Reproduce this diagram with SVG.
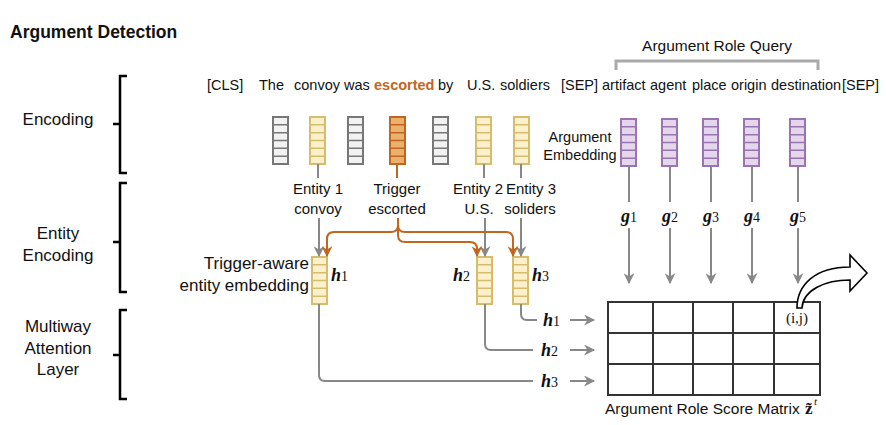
<svg xmlns="http://www.w3.org/2000/svg" width="886" height="425" viewBox="0 0 886 425">
<style>
text{font-family:"Liberation Sans",Arial,sans-serif;fill:#111}
.t{font-size:14.5px}
.lbl{font-size:15px}
.side{font-size:17px;text-anchor:middle}
.mid{text-anchor:middle}
.math{font-family:"Liberation Serif","Times New Roman",serif;font-weight:bold;font-style:italic;font-size:18px}
.num{font-family:"Liberation Serif","Times New Roman",serif;font-weight:normal;font-style:normal;font-size:14px}
.br{fill:none;stroke:#000;stroke-width:2.5}
.gl{fill:none;stroke:#888;stroke-width:2}
.ol{fill:none;stroke:#c0661e;stroke-width:2}
.vy{fill:#fdf0cc;stroke:#d6bd6c;stroke-width:2}
.vg{fill:#f2f2f2;stroke:#777;stroke-width:2}
.vo{fill:#ecb06e;stroke:#c0661e;stroke-width:2}
.vp{fill:#e4d7ec;stroke:#9a74b0;stroke-width:2}
</style>
<defs>
<marker id="ag" viewBox="0 0 10 10" refX="9" refY="5" markerWidth="11" markerHeight="11" markerUnits="userSpaceOnUse" orient="auto"><path d="M0,0 L10,5 L0,10 L3,5 z" fill="#888" stroke="none"/></marker>
<marker id="ao" viewBox="0 0 10 10" refX="9" refY="5" markerWidth="11" markerHeight="11" markerUnits="userSpaceOnUse" orient="auto"><path d="M0,0 L10,5 L0,10 L3,5 z" fill="#c0661e" stroke="none"/></marker>
<g id="vec"><rect x="0" y="0" width="15" height="47"/><path d="M0,7.8 H15 M0,15.7 H15 M0,23.5 H15 M0,31.3 H15 M0,39.2 H15" fill="none" stroke-width="1.6"/></g>
</defs>
<rect width="886" height="425" fill="#fff"/>

<text x="10" y="38" style="font-size:17.5px;font-weight:bold">Argument Detection</text>

<g id="side-labels">
<path class="br" d="M127,76 L120,76 L120,173 L127,173 M113,124 L120,124"/>
<path class="br" d="M127,183 L120,183 L120,292 L127,292 M113,242 L120,242"/>
<path class="br" d="M127,310 L120,310 L120,399 L127,399 M113,355 L120,355"/>
<text class="side" x="58" y="125">Encoding</text>
<text class="side" x="58" y="239">Entity</text>
<text class="side" x="58" y="261">Encoding</text>
<text class="side" x="58" y="332">Multiway</text>
<text class="side" x="58" y="354">Attention</text>
<text class="side" x="58" y="375">Layer</text>
</g>

<g id="tokens">
<text class="t" x="207" y="90">[CLS]</text>
<text class="t" x="259" y="90">The</text>
<text class="t" x="294" y="90">convoy</text>
<text class="t" x="344" y="90">was</text>
<text class="t" x="374" y="90" style="font-weight:bold;fill:#c0661e">escorted</text>
<text class="t" x="438" y="90">by</text>
<text class="t" x="467" y="90">U.S.</text>
<text class="t" x="500" y="90">soldiers</text>
<text class="t" x="561" y="90">[SEP]</text>
<text class="t" x="602" y="90">artifact</text>
<text class="t" x="650" y="90">agent</text>
<text class="t" x="692" y="90">place</text>
<text class="t" x="731" y="90">origin</text>
<text class="t" x="771" y="90">destination</text>
<text class="t" x="842" y="90">[SEP]</text>
</g>

<g id="role-query">
<path d="M616,70 L616,61 L818,61 L818,70" fill="none" stroke="#aaa" stroke-width="3"/>
<text class="mid" x="717" y="51" style="font-size:15.5px">Argument Role Query</text>
</g>

<g id="encoding-vectors">
<use href="#vec" class="vg" x="273" y="117"/>
<use href="#vec" class="vy" x="310" y="117"/>
<use href="#vec" class="vg" x="348" y="117"/>
<use href="#vec" class="vo" x="390" y="117"/>
<use href="#vec" class="vg" x="433" y="117"/>
<use href="#vec" class="vy" x="476" y="117"/>
<use href="#vec" class="vy" x="514" y="117"/>
</g>

<g id="argument-embeddings">
<text class="mid" x="580" y="142" style="font-size:14.5px">Argument</text>
<text class="mid" x="580" y="160" style="font-size:14.5px">Embedding</text>
<use href="#vec" class="vp" x="621" y="119"/>
<use href="#vec" class="vp" x="662" y="119"/>
<use href="#vec" class="vp" x="703" y="119"/>
<use href="#vec" class="vp" x="744" y="119"/>
<use href="#vec" class="vp" x="790" y="119"/>
</g>

<g id="entity-labels">
<text class="lbl mid" x="318" y="194">Entity 1</text>
<text class="lbl mid" x="318" y="214">convoy</text>
<text class="lbl mid" x="397" y="194">Trigger</text>
<text class="lbl mid" x="397" y="214">escorted</text>
<text class="lbl mid" x="478" y="194">Entity 2</text>
<text class="lbl mid" x="479" y="214">U.S.</text>
<text class="lbl mid" x="531" y="194">Entity 3</text>
<text class="lbl mid" x="530" y="214">soliders</text>
</g>

<g id="g-labels">
<text class="math mid" x="629" y="222">g<tspan class="num">1</tspan></text>
<text class="math mid" x="670" y="222">g<tspan class="num">2</tspan></text>
<text class="math mid" x="711" y="222">g<tspan class="num">3</tspan></text>
<text class="math mid" x="752" y="222">g<tspan class="num">4</tspan></text>
<text class="math mid" x="798" y="222">g<tspan class="num">5</tspan></text>
</g>

<g id="entity-embeddings">
<text x="309" y="269" style="font-size:17px;text-anchor:end">Trigger-aware</text>
<text x="309" y="291" style="font-size:17px;text-anchor:end">entity embedding</text>
<use href="#vec" class="vy" x="312" y="257"/>
<use href="#vec" class="vy" x="477" y="257"/>
<use href="#vec" class="vy" x="513" y="257"/>
<text class="math" x="331" y="281">h<tspan class="num">1</tspan></text>
<text class="math" x="453" y="281">h<tspan class="num">2</tspan></text>
<text class="math" x="532" y="281">h<tspan class="num">3</tspan></text>
</g>

<g id="connectors">
<path class="gl" d="M318,164 L318,178 M484,164 L484,178 M521,164 L521,178"/>
<path class="ol" d="M397,164 L397,178"/>
<path class="gl" d="M319,218 L319,256" marker-end="url(#ag)"/>
<path class="gl" d="M485,218 L485,256" marker-end="url(#ag)"/>
<path class="gl" d="M521,218 L521,256" marker-end="url(#ag)"/>
<path class="ol" d="M398,218 L398,225 Q398,232 391,232 L334,232 Q327,232 327,239 L327,256" marker-end="url(#ao)"/>
<path class="ol" d="M398,225 Q398,232 405,232 L506,232 Q513,232 513,239 L513,256" marker-end="url(#ao)"/>
<path class="ol" d="M398,225 L398,235 Q398,242 405,242 L470,242 Q477,242 477,249 L477,256" marker-end="url(#ao)"/>
<path class="gl" d="M629,167 L629,202 M670,167 L670,202 M711,167 L711,202 M752,167 L752,202 M798,167 L798,202"/>
<path class="gl" d="M629,228 L629,283" marker-end="url(#ag)"/>
<path class="gl" d="M670,228 L670,283" marker-end="url(#ag)"/>
<path class="gl" d="M711,228 L711,283" marker-end="url(#ag)"/>
<path class="gl" d="M752,228 L752,283" marker-end="url(#ag)"/>
<path class="gl" d="M798,228 L798,283" marker-end="url(#ag)"/>
<path class="gl" d="M521,304 L521,314 Q521,320 527,320 L537,320"/>
<path class="gl" d="M485,304 L485,344 Q485,350 491,350 L533,350"/>
<path class="gl" d="M319,304 L319,375 Q319,381 325,381 L533,381"/>
<path class="gl" d="M570,320 L594,320" marker-end="url(#ag)"/>
<path class="gl" d="M570,350 L594,350" marker-end="url(#ag)"/>
<path class="gl" d="M570,381 L594,381" marker-end="url(#ag)"/>
</g>

<g id="h-row-labels">
<text class="math" x="543" y="326">h<tspan class="num">1</tspan></text>
<text class="math" x="541" y="356">h<tspan class="num">2</tspan></text>
<text class="math" x="541" y="387">h<tspan class="num">3</tspan></text>
</g>

<g id="score-matrix">
<rect x="608" y="302" width="212" height="93" fill="#fff" stroke="#333" stroke-width="2"/>
<path d="M653,302 V395 M693,302 V395 M733,302 V395 M774,302 V395 M608,333 H820 M608,364 H820" stroke="#333" stroke-width="2" fill="none"/>
<text x="797" y="323" style="font-family:'Liberation Serif','Times New Roman',serif;font-size:15px;text-anchor:middle">(i,j)</text>
<path d="M797,308 C797,285 815,267 850,267 L850,255 L867,273 L850,291 L850,280 C825,280 803,290 802,308 Z" fill="#fff" stroke="#000" stroke-width="1.6" stroke-linejoin="miter"/>
<text x="605" y="414" style="font-size:15.5px">Argument Role Score Matrix</text>
<text x="805" y="414" style="font-family:'Liberation Serif','Times New Roman',serif;font-weight:bold;font-size:17px">z̃</text>
<text x="814" y="405" style="font-family:'Liberation Serif','Times New Roman',serif;font-style:italic;font-size:11px">t</text>
</g>
</svg>
